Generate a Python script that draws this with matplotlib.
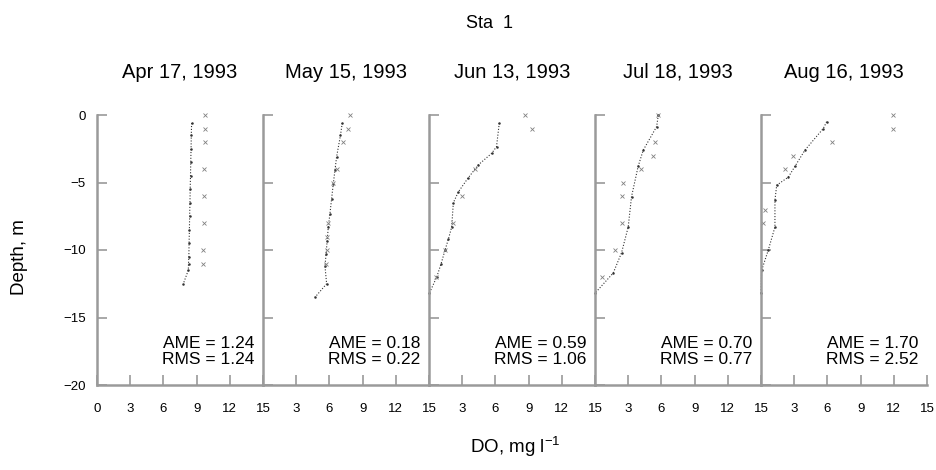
import matplotlib
matplotlib.use("Agg")
import matplotlib.pyplot as plt
import numpy as np

plt.rcParams['font.family'] = ['Liberation Sans', 'DejaVu Sans']

# dates of each profile
dates = ["Apr 17, 1993", "May 15, 1993", "Jun 13, 1993", "Jul 18, 1993", "Aug 16, 1993"]
ame = ["1.24", "0.18", "0.59", "0.70", "1.70"]
rms = ["1.24", "0.22", "1.06", "0.77", "2.52"]

# model profiles (DO, depth)
mod_do = [
    [8.55, 8.52, 8.50, 8.47, 8.45, 8.42, 8.40, 8.37, 8.35, 8.32, 8.30, 8.27, 8.25, 7.8],
    [7.16, 7.0, 6.65, 6.5, 6.35, 6.2, 6.05, 5.9, 5.8, 5.7, 5.6, 5.75, 4.7],
    [6.35, 6.1, 5.66, 4.45, 3.5, 2.65, 2.2, 2.05, 1.75, 1.45, 1.1, 0.7, 0.03],
    [5.72, 5.57, 4.36, 3.9, 3.3, 3.0, 2.4, 1.65, 0.0],
    [5.93, 5.63, 3.97, 3.07, 2.47, 1.42, 1.26, 1.26, 0.66, 0.06, 0.0],
]
mod_z = [
    [-0.6, -1.5, -2.5, -3.5, -4.5, -5.5, -6.5, -7.5, -8.5, -9.5, -10.5, -11.0, -11.5, -12.5],
    [-0.6, -1.5, -3.1, -4.1, -5.1, -6.2, -7.3, -8.3, -9.3, -10.3, -11.2, -12.5, -13.5],
    [-0.6, -2.35, -2.84, -3.7, -4.7, -5.7, -6.5, -8.3, -9.2, -10.0, -11.0, -12.0, -13.2],
    [0.0, -0.86, -2.6, -3.8, -6.05, -8.3, -10.2, -11.7, -13.2],
    [-0.5, -1.0, -2.6, -3.8, -4.6, -5.2, -6.3, -8.3, -10.0, -11.5, -13.2],
]

# observations (DO, depth)
obs_do = [
    [9.75, 9.75, 9.75, 9.7, 9.7, 9.65, 9.6, 9.55],
    [7.86, 7.7, 7.2, 6.7, 6.3, 5.9, 5.8, 5.75, 5.7],
    [8.67, 9.27, 4.2, 3.0, 2.2, 1.45, 0.6],
    [5.72, 5.4, 5.2, 4.2, 2.55, 2.4, 2.4, 1.8, 0.6],
    [11.9, 11.9, 6.4, 2.9, 2.15, 0.36, 0.2],
]
obs_z = [
    [0, -1, -2, -4, -6, -8, -10, -11],
    [0, -1, -2, -4, -5, -8, -9, -10, -11],
    [0, -1, -4, -6, -8, -10, -12],
    [0, -2, -3, -4, -5, -6, -8, -10, -12],
    [0, -1, -2, -3, -4, -7, -8],
]

spine_c = "#9a9a9a"

fig = plt.figure(figsize=(9.37, 4.70), dpi=100)
left, right, bottom, top = 97 / 937, 927 / 937, 1 - 385 / 470, 1 - 115 / 470
w = (right - left) / 5

for i in range(5):
    ax = fig.add_axes([left + i * w, bottom, w, top - bottom])
    ax.plot(mod_do[i], mod_z[i], linestyle=(0, (1.0, 1.6)), color="#333333", lw=0.8,
            marker='.', markersize=1.6, clip_on=False)
    ax.plot(obs_do[i], obs_z[i], linestyle='none', marker='x', color="#808080",
            markersize=3.5, markeredgewidth=0.6, clip_on=False)
    ax.set_xlim(0, 15)
    ax.set_ylim(-20, 0)
    for s in ["top", "right"]:
        ax.spines[s].set_visible(False)
    for s in ["left", "bottom"]:
        ax.spines[s].set_color(spine_c)
        ax.spines[s].set_linewidth(1.8)
    if i == 0:
        ax.set_xticks([0, 3, 6, 9, 12, 15])
        ax.set_xticklabels(["0", "3", "6", "9", "12", "15"])
    else:
        ax.set_xticks([3, 6, 9, 12, 15])
        ax.set_xticklabels(["3", "6", "9", "12", "15"])
    ax.set_yticks([0, -5, -10, -15, -20])
    ax.tick_params(axis='both', direction='in', length=7, width=1.2, color=spine_c,
                   labelsize=9.5, pad=8)
    ax.tick_params(axis='x', pad=13)
    if i > 0:
        ax.set_yticklabels([])
    ax.patch.set_alpha(0)
    ax.text(14.2, -16.9, "AME = " + ame[i], ha='right', va='center', fontsize=12.5)
    ax.text(14.2, -18.1, "RMS = " + rms[i], ha='right', va='center', fontsize=12.5)
    fig.text(left + (i + 0.5) * w, 1 - 72 / 470, dates[i], ha='center', va='center', fontsize=14.5)

fig.text(490 / 937, 1 - 23 / 470, "Sta  1", ha='center', va='center', fontsize=13)
fig.text(515 / 937, 1 - 447 / 470, "DO, mg l$^{\\mathregular{-1}}$", ha='center', va='center', fontsize=13.5)
fig.text(20 / 937, 1 - 257 / 470, "Depth, m", ha='center', va='center', rotation=90, fontsize=13.5)

plt.savefig("out.png", dpi=100, facecolor="white")
